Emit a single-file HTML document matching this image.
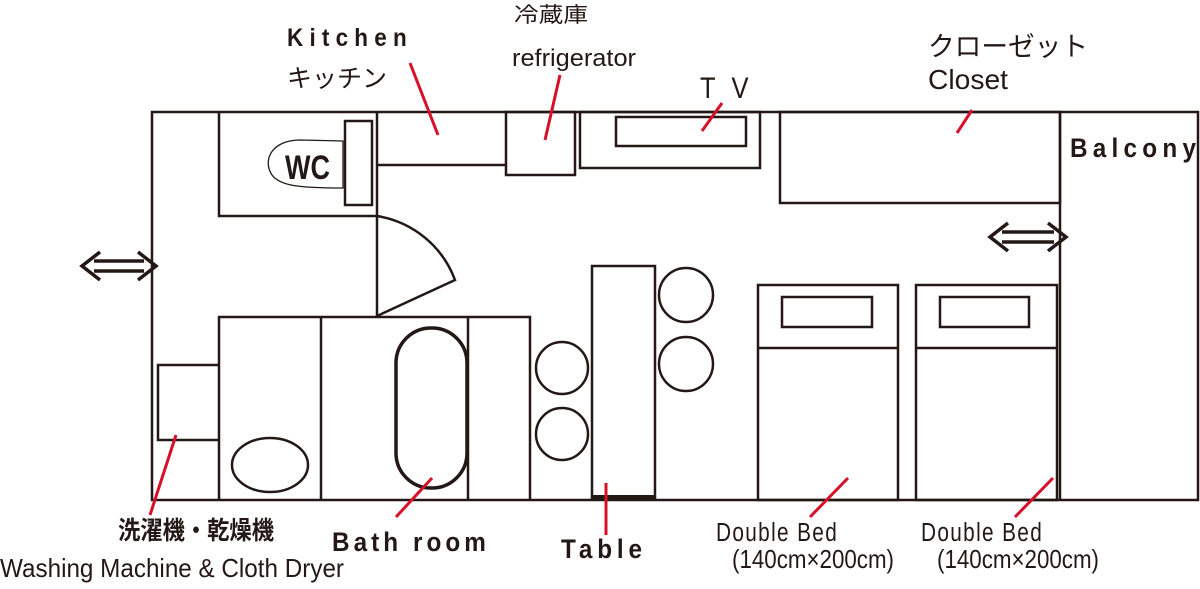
<!DOCTYPE html>
<html><head><meta charset="utf-8"><style>
html,body{margin:0;padding:0;background:#fff;}
svg{display:block;}
text{font-family:"Liberation Sans","Noto Sans CJK JP",sans-serif;fill:#231815;}
</style></head><body>
<svg width="1200" height="589" viewBox="0 0 1200 589" xmlns="http://www.w3.org/2000/svg">
<g fill="none" stroke="#231815" stroke-width="2.5">
<rect x="152" y="112" width="1046" height="388"/>
<line x1="1060" y1="112" x2="1060" y2="500"/>
<polyline points="219,112 219,216 377,216 377,112"/>
<rect x="345" y="121" width="27" height="84"/>
<path d="M343,141 L300,140 C272,140 262,160 272,175 C280,186 300,188 343,188 Z" stroke-width="1.3"/>
<polyline points="377,165 506,165"/>
<rect x="506" y="112" width="69" height="63"/>
<rect x="580" y="112" width="180" height="56"/>
<rect x="616" y="117" width="130" height="29"/>
<rect x="780" y="112" width="280" height="91"/>
<line x1="377" y1="216" x2="377" y2="316"/>
<path d="M377,216 A100,100 0 0 1 455,280 L377,316"/>
<polyline points="219,500 219,317 530,317 530,500"/>
<line x1="321" y1="317" x2="321" y2="500"/>
<line x1="468" y1="317" x2="468" y2="500"/>
<polyline points="219,365 158,365 158,440 219,440"/>
<ellipse cx="270" cy="465" rx="38" ry="27"/>
<rect x="396" y="328" width="71" height="160" rx="35" ry="35" stroke-width="3.5"/>
<rect x="592" y="266" width="63" height="232"/>
<line x1="592" y1="497" x2="655" y2="497" stroke-width="4"/>
<circle cx="562" cy="368" r="26"/>
<circle cx="562" cy="434" r="26"/>
<circle cx="686" cy="295" r="27"/>
<circle cx="686" cy="364" r="27"/>
<rect x="758" y="285" width="140" height="215"/>
<rect x="782" y="297" width="90" height="30"/>
<line x1="758" y1="348" x2="898" y2="348"/>
<rect x="916" y="285" width="141" height="215"/>
<rect x="940" y="297" width="89" height="30"/>
<line x1="916" y1="348" x2="1057" y2="348"/>
<g stroke-width="3.5">
<line x1="94" y1="261" x2="144" y2="261"/>
<line x1="94" y1="271" x2="144" y2="271"/>
<polyline points="100,252 82,266 100,280"/>
<polyline points="138,252 156,266 138,280"/>
<line x1="1002" y1="232" x2="1054" y2="232"/>
<line x1="1002" y1="242" x2="1054" y2="242"/>
<polyline points="1008,223 990,237 1008,251"/>
<polyline points="1048,223 1066,237 1048,251"/>
</g>
</g>
<g stroke="#d7102a" stroke-width="3">
<line x1="410" y1="63" x2="438" y2="135"/>
<line x1="560" y1="75" x2="545" y2="140"/>
<line x1="722" y1="103" x2="702" y2="131"/>
<line x1="972" y1="110" x2="957" y2="133"/>
<line x1="176" y1="435" x2="150" y2="515"/>
<line x1="432" y1="478" x2="396" y2="517"/>
<line x1="606" y1="483" x2="606" y2="535"/>
<line x1="848" y1="478" x2="810" y2="517"/>
<line x1="1053" y1="478" x2="1015" y2="517"/>
</g>
<text x="285" y="179" font-size="34" font-weight="bold" textLength="45" lengthAdjust="spacingAndGlyphs">WC</text>
<text transform="translate(287,46) scale(0.9,1)" x="0" y="0" font-size="25" font-weight="bold" textLength="133" lengthAdjust="spacing">Kitchen</text>
<text x="287" y="87" font-size="25" textLength="100" lengthAdjust="spacingAndGlyphs">キッチン</text>
<text x="514" y="22" font-size="21" textLength="74" lengthAdjust="spacingAndGlyphs">冷蔵庫</text>
<text x="512" y="66" font-size="24" textLength="124" lengthAdjust="spacingAndGlyphs">refrigerator</text>
<text transform="translate(700,98) scale(0.85,1)" x="0" y="0" font-size="30" textLength="57" lengthAdjust="spacing">T V</text>
<text x="928" y="56" font-size="27" textLength="160" lengthAdjust="spacingAndGlyphs">クローゼット</text>
<text x="928" y="89" font-size="28" textLength="80" lengthAdjust="spacingAndGlyphs">Closet</text>
<text transform="translate(1070,157) scale(0.9,1)" x="0" y="0" font-size="27" font-weight="bold" textLength="140" lengthAdjust="spacing">Balcony</text>
<text x="118" y="539" font-size="25" font-weight="bold" textLength="156" lengthAdjust="spacingAndGlyphs">洗濯機・乾燥機</text>
<text x="0" y="577" font-size="26" textLength="344" lengthAdjust="spacingAndGlyphs">Washing  Machine &amp; Cloth Dryer</text>
<text transform="translate(332,551) scale(0.9,1)" x="0" y="0" font-size="27" font-weight="bold" textLength="171" lengthAdjust="spacing">Bath room</text>
<text transform="translate(561,558) scale(0.9,1)" x="0" y="0" font-size="27" font-weight="bold" textLength="90" lengthAdjust="spacing">Table</text>
<text transform="translate(716,541) scale(0.8,1)" x="0" y="0" font-size="26" textLength="151" lengthAdjust="spacing">Double Bed</text>
<text x="732" y="568" font-size="26" textLength="162" lengthAdjust="spacingAndGlyphs">(140cm×200cm)</text>
<text transform="translate(921,541) scale(0.8,1)" x="0" y="0" font-size="26" textLength="151" lengthAdjust="spacing">Double Bed</text>
<text x="937" y="568" font-size="26" textLength="162" lengthAdjust="spacingAndGlyphs">(140cm×200cm)</text>
</svg>
</body></html>
